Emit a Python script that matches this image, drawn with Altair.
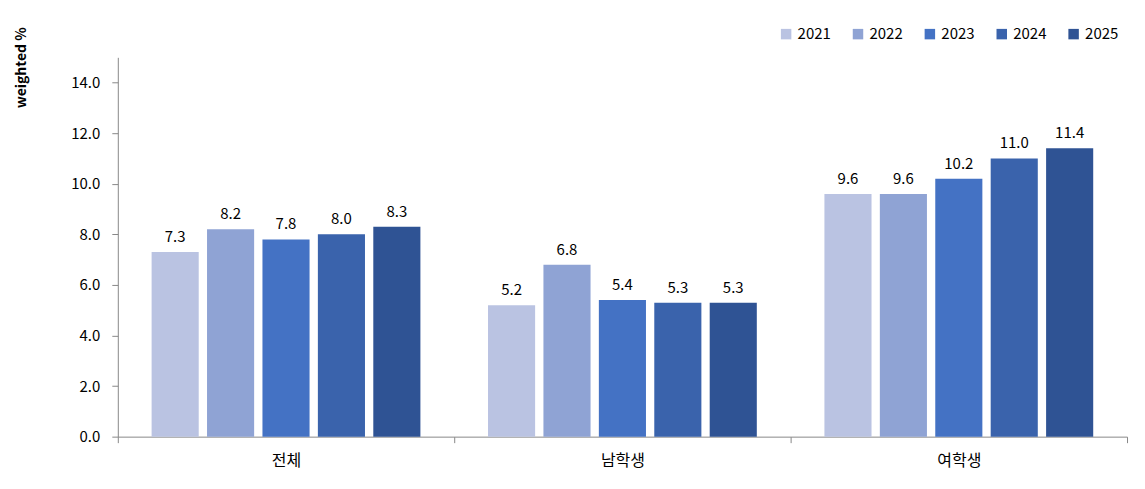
import altair as alt
import pandas as pd

# 구분, 연도, 값
GROUPS = ["전체", "남학생", "여학생"]
YEARS = ["2021", "2022", "2023", "2024", "2025"]
VALUES = {
    "전체": [7.3, 8.2, 7.8, 8.0, 8.3],
    "남학생": [5.2, 6.8, 5.4, 5.3, 5.3],
    "여학생": [9.6, 9.6, 10.2, 11.0, 11.4],
}
COLORS = ["#BAC3E2", "#8FA3D4", "#4472C4", "#3A63AC", "#2F5394"]
Y_TICKS = [0, 2, 4, 6, 8, 10, 12, 14]

df = pd.DataFrame(
    [{"구분": g, "연도": y, "값": v} for g in GROUPS for y, v in zip(YEARS, VALUES[g])]
)

FONT = "Noto Sans CJK KR"

base = alt.Chart(df).encode(
    x=alt.X(
        "구분:N",
        sort=GROUPS,
        scale=alt.Scale(paddingInner=0, paddingOuter=0),
        axis=alt.Axis(
            title=None,
            labelAngle=0,
            labelFontSize=16,
            labelFont=FONT,
            labelColor="#000",
            labelPadding=10,
            tickBand="extent",
            tickSize=6,
            tickColor="#888",
            domainColor="#888",
        ),
    ),
    xOffset=alt.XOffset(
        "연도:N", sort=YEARS, scale=alt.Scale(paddingInner=0.15, paddingOuter=0.61)
    ),
    y=alt.Y(
        "값:Q",
        scale=alt.Scale(domain=[0, 15], nice=False),
        axis=alt.Axis(
            title="weighted %",
            titleFont=FONT,
            titleFontSize=14,
            titleFontWeight="bold",
            titleColor="#000",
            titleAngle=-90,
            titleX=-96,
            titleY=10,
            titleAlign="center",
            titleBaseline="middle",
            values=Y_TICKS,
            format=".1f",
            labelFontSize=15,
            labelFont=FONT,
            labelColor="#000",
            labelPadding=12,
            tickSize=6,
            tickColor="#888",
            domainColor="#888",
            grid=False,
        ),
    ),
)

bars = base.mark_bar().encode(
    color=alt.Color(
        "연도:N",
        sort=YEARS,
        scale=alt.Scale(domain=YEARS, range=COLORS),
        legend=alt.Legend(
            title=None,
            orient="none",
            legendX=662,
            legendY=-31,
            direction="horizontal",
            columns=5,
            symbolType="square",
            symbolSize=110,
            symbolStrokeWidth=0,
            labelFont=FONT,
            labelFontSize=15,
            labelColor="#000",
            columnPadding=19,
        ),
    )
)

labels = base.mark_text(dy=-15, fontSize=15, font=FONT, color="#000").encode(
    text=alt.Text("값:Q", format=".1f")
)

chart = (
    alt.layer(bars, labels)
    .properties(
        width=1011,
        height=380,
        autosize=alt.AutoSizeParams(type="none"),
        padding={"left": 110, "top": 49, "right": 10, "bottom": 40},
    )
    .configure_view(stroke=None)
)

chart.save("out.html", embed_options={"renderer": "svg", "actions": False})
